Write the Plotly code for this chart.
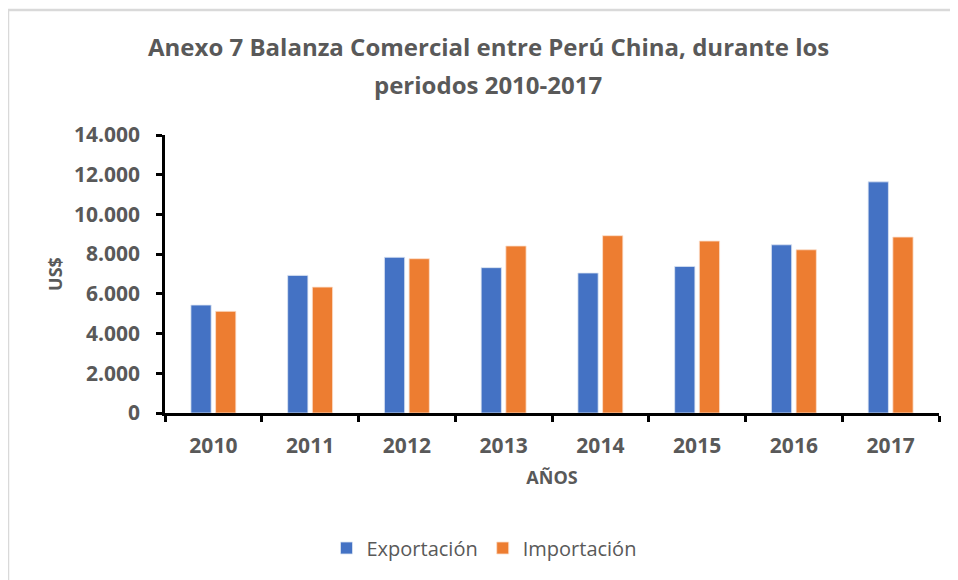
import plotly.graph_objects as go

years = ["2010", "2011", "2012", "2013", "2014", "2015", "2016", "2017"]
exportacion = [5436, 6930, 7840, 7320, 7050, 7380, 8470, 11640]
importacion = [5120, 6340, 7770, 8410, 8930, 8660, 8220, 8860]
y_ticks = [0, 2000, 4000, 6000, 8000, 10000, 12000, 14000]
title_lines = ["Anexo 7 Balanza Comercial entre Perú China, durante los", "periodos 2010-2017"]

GRAY = "#595959"
FONT = "Open Sans"

# page body has an 8px default margin: work in figure coordinates = reference - 8
OFF = 8
W, H = 958 - OFF, 580 - OFF
L, R, T, B = 165 - OFF, 19, 135 - OFF, 580 - 413
pw, ph = W - L - R, H - T - B

def px_x(p):
    return (p - OFF - L) / pw

def px_y(p):
    return (H - B - (p - OFF)) / ph

fig = go.Figure()
fig.add_trace(go.Bar(name="Exportación", x=years, y=exportacion,
                     marker=dict(color="#4472C4", line=dict(color="#dce4f3", width=0.8))))
fig.add_trace(go.Bar(name="Importación", x=years, y=importacion,
                     marker=dict(color="#ED7D31", line=dict(color="#fbe0cd", width=0.8))))

annotations = []
for txt, yc in zip(title_lines, [47, 84]):
    annotations.append(dict(text=txt, xref="paper", yref="paper", x=px_x(488), y=px_y(yc),
                            xanchor="center", yanchor="middle", showarrow=False,
                            font=dict(family=FONT, size=24, color=GRAY, weight="bold")))

fig.update_layout(
    width=W, height=H,
    margin=dict(l=L, r=R, t=T, b=B),
    paper_bgcolor="white", plot_bgcolor="white",
    separators=",.",
    barmode="group", bargap=0.49, bargroupgap=0.18,
    annotations=annotations,
    font=dict(family=FONT, color=GRAY),
    xaxis=dict(showline=True, linecolor="black", linewidth=2.5,
               ticks="outside", tickson="boundaries", ticklen=6, tickwidth=2.5, tickcolor="black",
               ticklabelstandoff=12,
               tickfont=dict(family=FONT, size=21, color=GRAY, weight="bold"),
               title=dict(text="AÑOS", font=dict(family=FONT, size=18, color=GRAY, weight="bold"), standoff=14),
               showgrid=False),
    yaxis=dict(showline=True, linecolor="black", linewidth=2.5,
               ticks="outside", ticklen=6, tickwidth=2.5, tickcolor="black",
               ticklabelstandoff=12,
               range=[0, 14000], tickvals=y_ticks, tickformat=",d",
               tickfont=dict(family=FONT, size=21, color=GRAY, weight="bold"),
               title=dict(text="US$", font=dict(family=FONT, size=18, color=GRAY, weight="bold"), standoff=7),
               showgrid=False, zeroline=False),
    legend=dict(orientation="h", x=px_x(484), xanchor="center",
                y=px_y(548), yanchor="middle",
                font=dict(family=FONT, size=20, color=GRAY), itemwidth=30,
                traceorder="normal"),
    shapes=[
        dict(type="line", xref="paper", yref="paper", x0=px_x(8), x1=px_x(8),
             y0=px_y(10), y1=px_y(600), line=dict(color="#d9d9d9", width=2.5)),
        dict(type="line", xref="paper", yref="paper", x0=px_x(8), x1=px_x(990),
             y0=px_y(10), y1=px_y(10), line=dict(color="#d9d9d9", width=2.5)),
    ],
)

fig.write_html("out.html")
